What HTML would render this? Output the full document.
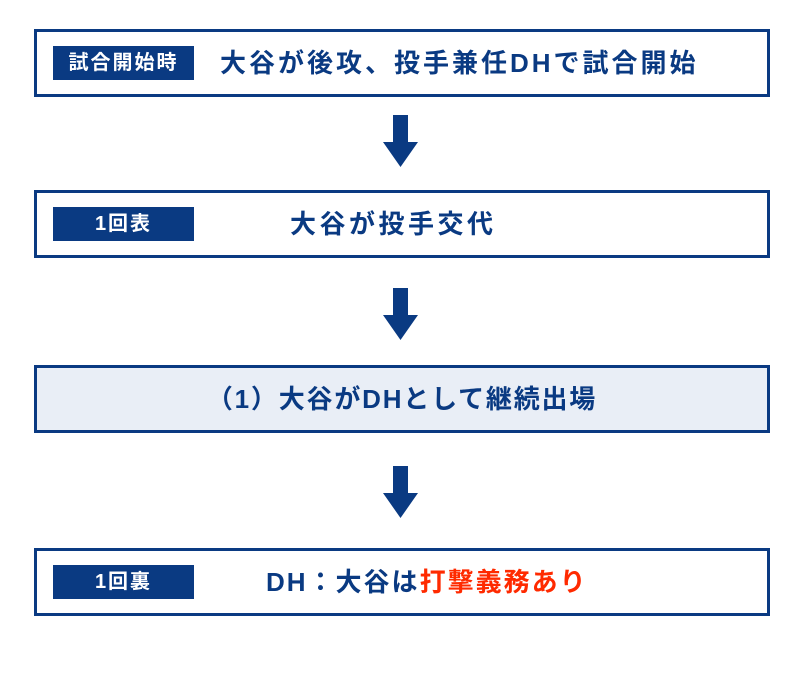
<!DOCTYPE html>
<html><head><meta charset="utf-8"><style>
body{margin:0;width:800px;height:700px;background:#fff;position:relative;font-family:"Liberation Sans","Noto Sans CJK JP",sans-serif;font-weight:bold;color:#0a3a82}
.box{position:absolute;left:34px;width:730px;height:62px;border:3px solid #0a3a82;background:#fff}
.lab{position:absolute;left:16px;top:14px;width:141px;height:34px;background:#0a3a82;color:#fff;font-size:20px;letter-spacing:2px;line-height:34px;text-align:center}
.t{position:absolute;top:0;height:62px;line-height:62px;font-size:26px;letter-spacing:2.2px;white-space:nowrap}
.arr{position:absolute;left:383px;width:35px}
</style></head><body>
<div class="box" style="top:29px"><div class="lab">試合開始時</div><div class="t" style="left:183px;letter-spacing:3px">大谷が後攻、投手兼任DHで試合開始</div></div>
<div class="box" style="top:190px"><div class="lab">1回表</div><div class="t" style="left:253px;letter-spacing:3.5px">大谷が投手交代</div></div>
<div class="box" style="top:365px;background:#e9eef6"><div class="t" style="left:0;width:730px;text-align:center;letter-spacing:1.8px">（1）大谷がDHとして継続出場</div></div>
<div class="box" style="top:548px"><div class="lab">1回裏</div><div class="t" style="left:229px;letter-spacing:2px">DH：大谷は<span style="color:#ff2a00">打撃義務あり</span></div></div>
<svg class="arr" style="top:115px" width="35" height="52"><path d="M10 0H25V27H35L17.5 52L0 27H10Z" fill="#0a3a82"/></svg>
<svg class="arr" style="top:288px" width="35" height="52"><path d="M10 0H25V27H35L17.5 52L0 27H10Z" fill="#0a3a82"/></svg>
<svg class="arr" style="top:466px" width="35" height="52"><path d="M10 0H25V27H35L17.5 52L0 27H10Z" fill="#0a3a82"/></svg>
</body></html>
